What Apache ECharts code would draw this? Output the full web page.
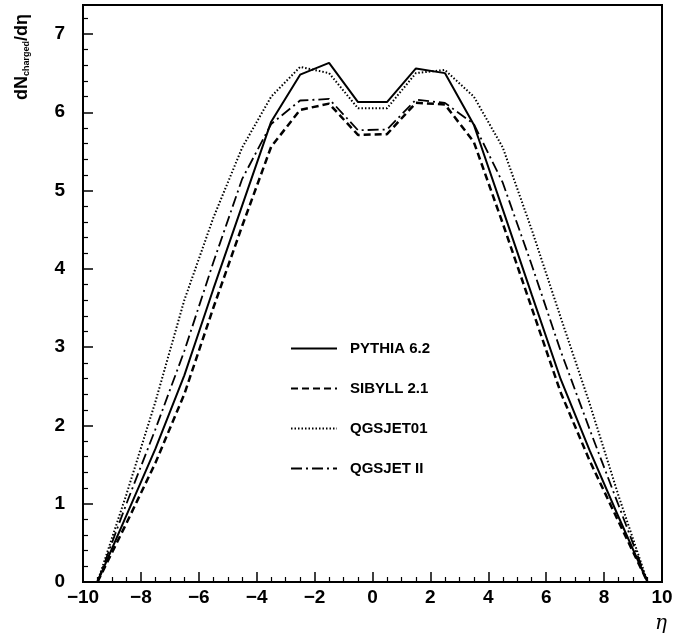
<!DOCTYPE html>
<html>
<head>
<meta charset="utf-8">
<script src="https://cdn.jsdelivr.net/npm/echarts@6/dist/echarts.min.js"></script>
<style>
html,body{margin:0;padding:0;background:#fff;}
#main{width:691px;height:636px;}
</style>
</head>
<body>
<div id="main"></div>
<script>
// eta bin centres
var eta = [-9.5,-8.5,-7.5,-6.5,-5.5,-4.5,-3.5,-2.5,-1.5,-0.5,0.5,1.5,2.5,3.5,4.5,5.5,6.5,7.5,8.5,9.5];
var pythia  = [0,0.85,1.70,2.64,3.74,4.81,5.88,6.48,6.63,6.13,6.13,6.56,6.50,5.84,4.76,3.67,2.59,1.68,0.83,0];
var sibyll  = [0,0.75,1.52,2.40,3.50,4.55,5.56,6.03,6.11,5.71,5.72,6.12,6.10,5.62,4.58,3.50,2.42,1.55,0.77,0];
var qgsjet01= [0,1.12,2.30,3.60,4.65,5.55,6.20,6.58,6.50,6.05,6.05,6.50,6.54,6.20,5.55,4.50,3.38,2.28,1.10,0];
var qgsjet2 = [0,1.00,1.95,2.95,4.08,5.15,5.85,6.15,6.17,5.77,5.78,6.16,6.12,5.85,5.10,4.05,2.95,1.95,0.98,0];
var names = ['PYTHIA 6.2','SIBYLL 2.1','QGSJET01','QGSJET II'];

function pairs(v){
	var out=[];
	for(var i=0;i<eta.length;i++){ out.push([eta[i],v[i]]); }
	return out;
}

var myChart = echarts.init(document.getElementById('main'));
var font = 'Liberation Sans';

option = {
	animation:false,
	backgroundColor:'#fff',
	grid:{
		left:83, right:29, top:5, bottom:54,
		show:true, borderColor:'#000', borderWidth:2, backgroundColor:'transparent'
	},
	legend:{
		orient:'vertical',
		left:285, top:336,
		itemWidth:46, itemHeight:14, itemGap:25,
		itemStyle:{opacity:0},
		textStyle:{fontFamily:font, fontWeight:'bold', fontSize:15, color:'#000', padding:[0,0,0,8]},
		data:names
	},
	xAxis:{
		type:'value', min:-10, max:10, interval:2,
		axisLine:{lineStyle:{color:'#000', width:2}},
		axisTick:{inside:true, length:10, lineStyle:{color:'#000', width:1.5}},
		minorTick:{show:true, splitNumber:4, length:5, lineStyle:{color:'#000', width:1.2}},
		splitLine:{show:false},
		axisLabel:{
			color:'#000', fontFamily:font, fontWeight:'bold', fontSize:19, margin:6,
			formatter:function(v){ return String(v).replace('-','\u2212'); }
		}
	},
	yAxis:{
		type:'value', min:0, max:7.37, interval:1,
		axisLine:{onZero:false, lineStyle:{color:'#000', width:2}},
		axisTick:{inside:true, length:10, lineStyle:{color:'#000', width:1.5}},
		minorTick:{show:true, splitNumber:5, length:5, lineStyle:{color:'#000', width:1.2}},
		splitLine:{show:false},
		axisLabel:{
			color:'#000', fontFamily:font, fontWeight:'bold', fontSize:19, margin:18,
			showMaxLabel:false,
			formatter:function(v){ return (v%1===0)?String(v):''; }
		}
	},
	graphic:[
		{
			type:'text', x:22, y:57, rotation:Math.PI/2,
			style:{
				text:'{a|dN}{b|charged}{a|/dη}',
				align:'center', verticalAlign:'middle',
				rich:{
					a:{fontFamily:font, fontWeight:'bold', fontSize:18, fill:'#000'},
					b:{fontFamily:font, fontWeight:'bold', fontSize:9, fill:'#000', verticalAlign:'bottom', padding:[8,0,0,0]}
				}
			}
		},
		{
			type:'text', x:655, y:614,
			style:{text:'η', fontFamily:'DejaVu Serif', fontStyle:'italic', fontSize:20, fill:'#000'}
		}
	],
	series:[]
};

option.series.push({
	name:names[0], type:'line', data:pairs(pythia), symbol:'none',
	lineStyle:{color:'#000', width:2, type:'solid'}, itemStyle:{color:'#000'}
});
option.series.push({
	name:names[1], type:'line', data:pairs(sibyll), symbol:'none',
	lineStyle:{color:'#000', width:2.5, type:[7,4]}, itemStyle:{color:'#000'}
});
option.series.push({
	name:names[2], type:'line', data:pairs(qgsjet01), symbol:'none',
	lineStyle:{color:'#000', width:2, type:[1.5,2]}, itemStyle:{color:'#000'}
});
option.series.push({
	name:names[3], type:'line', data:pairs(qgsjet2), symbol:'none',
	lineStyle:{color:'#000', width:1.8, type:[11,4,2,4]}, itemStyle:{color:'#000'}
});

myChart.setOption(option);
window.onresize = myChart.resize;
</script>
</body>
</html>
